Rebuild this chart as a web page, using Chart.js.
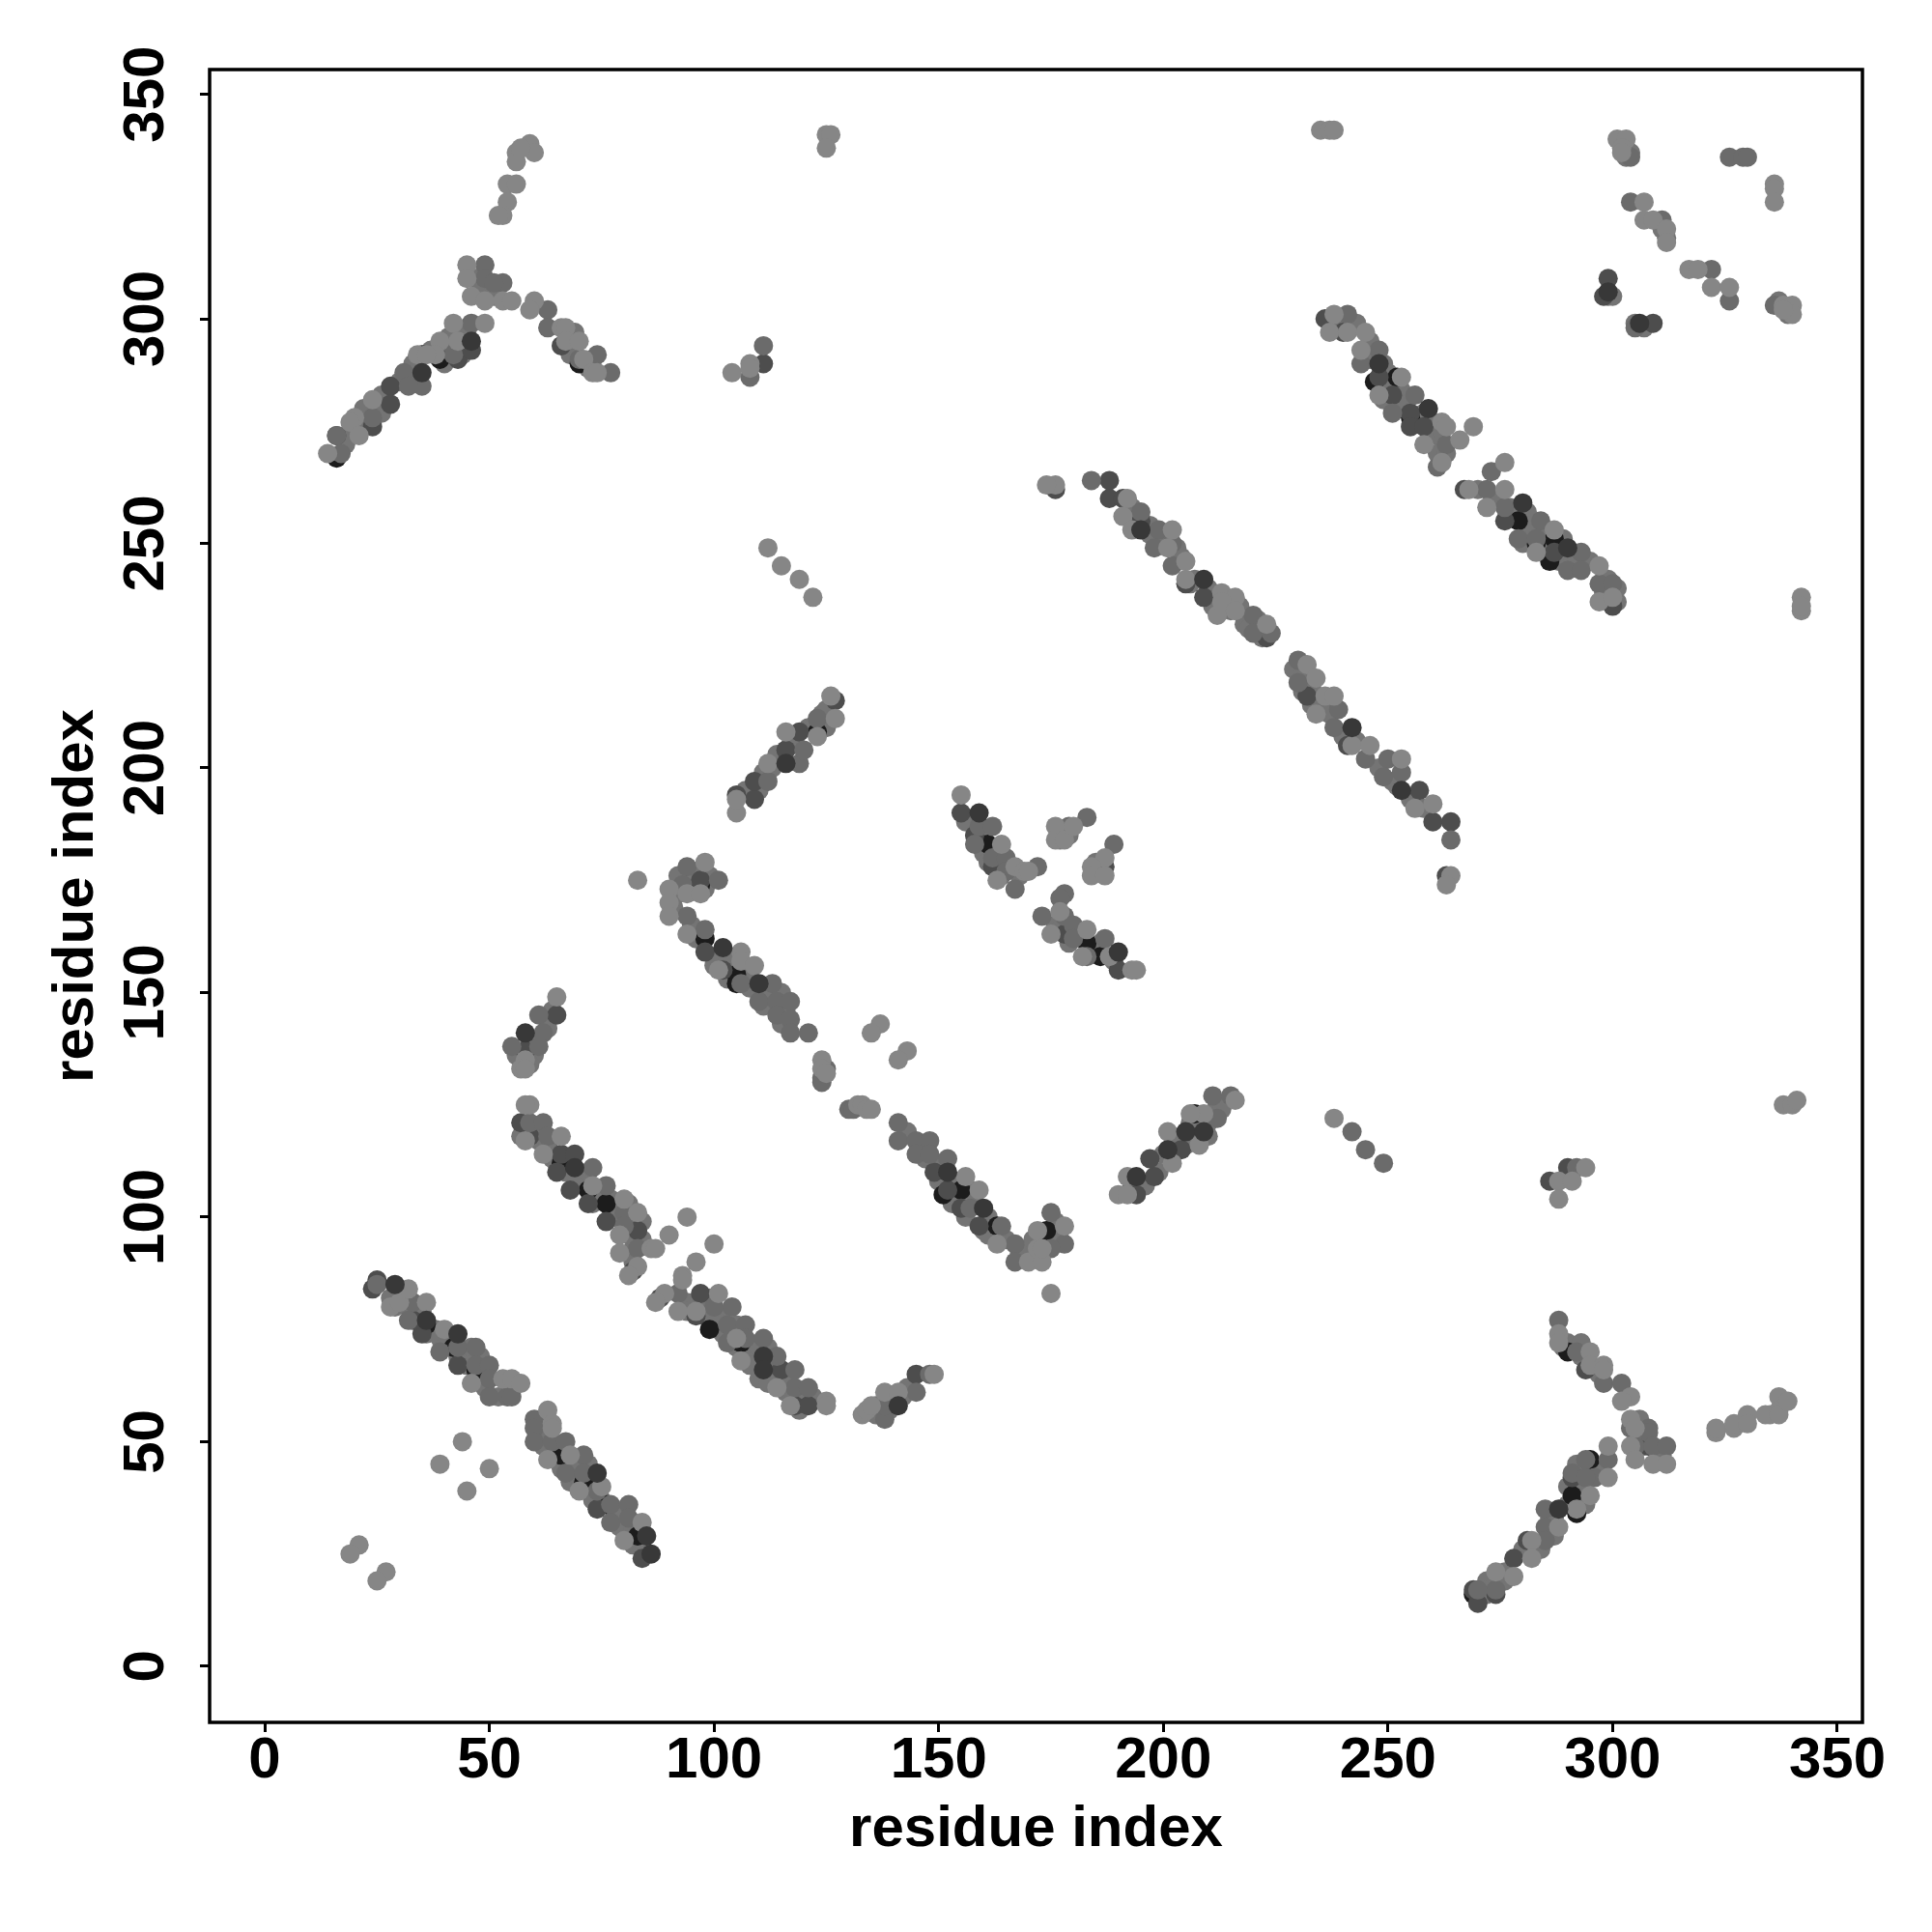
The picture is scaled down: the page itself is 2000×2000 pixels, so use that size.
<!DOCTYPE html>
<html>
<head>
<meta charset="utf-8">
<script src="https://cdn.jsdelivr.net/npm/chart.js@4"></script>
<style>
  html, body { margin: 0; padding: 0; background: #fff; }
  canvas { display: block; }
</style>
</head>
<body>
<canvas id="contactMap" width="2000" height="2000"></canvas>
<script>
const tickValues = [0, 50, 100, 150, 200, 250, 300, 350];

// residue pairs, one list per grey level
const blackPairs = [
  [36,76],[42,71],[47,66],[66,47],[71,41],[76,36],[83,29],[66,112],[72,106],[76,103],[106,72],[99,75],
  [105,154],[105,152],[97,174],[98,162],[151,105],[155,106],[163,98],[161,183],[186,158],[183,161],
  [174,97],[207,123],[247,286],[252,287],[255,278],[279,255],[283,250],[287,251],[286,246],[290,70],
  [295,46],[291,38],[292,34],[269,16],[70,290],[39,291],[35,292],[16,269],[123,208]
];
const darkPairs = [
  [24,84],[25,86],[35,74],[33,77],[43,67],[74,35],[84,24],[57,121],[59,118],[66,114],[69,114],[65,110],
  [68,106],[72,103],[76,99],[83,97],[82,88],[88,82],[97,83],[96,78],[115,66],[118,58],[121,58],[97,175],
  [98,159],[102,155],[152,106],[149,110],[155,102],[159,98],[194,105],[198,109],[197,113],[204,115],
  [286,108],[290,111],[155,190],[158,185],[162,178],[178,163],[190,155],[176,262],[188,264],[188,260],
  [191,260],[195,255],[205,241],[209,238],[223,229],[232,216],[241,205],[257,195],[260,188],[264,188],
  [263,176],[236,300],[240,297],[248,287],[251,283],[255,279],[255,276],[258,276],[267,262],[276,255],
  [287,248],[300,236],[299,309],[298,305],[309,299],[294,66],[308,49],[291,42],[274,16],[281,28],[278,24],
  [269,17],[270,14],[66,294],[73,291],[43,291],[46,293],[28,285],[28,281],[24,276],[16,274],[111,290],
  [105,194],[109,193],[109,197],[116,204],[119,208],[127,215],[65,145],[58,137],[145,65],[187,178]
];
const midPairs = [
  [25,85],[33,81],[32,77],[39,70],[43,71],[47,71],[47,67],[50,67],[50,64],[50,60],[54,60],[55,60],[60,55],
  [60,53],[60,50],[64,50],[67,50],[67,43],[71,47],[71,43],[74,39],[77,36],[81,36],[77,32],[81,33],
  [59,121],[62,121],[63,118],[73,111],[76,107],[80,101],[80,98],[83,93],[92,83],[100,80],[104,80],[103,76],
  [107,76],[103,72],[107,73],[111,73],[114,69],[118,66],[118,62],[121,62],[94,178],[101,175],[93,174],
  [94,167],[98,164],[106,152],[113,152],[110,148],[114,148],[117,148],[114,145],[117,144],[117,141],[121,141],
  [124,131],[124,130],[125,133],[130,124],[131,124],[141,121],[141,117],[145,117],[148,117],[145,114],[148,114],
  [152,113],[157,102],[164,98],[167,94],[167,90],[175,101],[178,94],[175,93],[212,122],[211,127],[215,127],
  [249,112],[245,115],[242,119],[292,111],[159,187],[162,187],[158,183],[162,180],[165,180],[165,177],[172,178],
  [167,173],[183,189],[179,187],[189,183],[178,172],[177,171],[173,167],[178,167],[180,165],[180,162],[187,162],
  [183,158],[184,264],[195,257],[199,253],[198,249],[202,250],[202,245],[220,234],[220,230],[224,230],[230,224],
  [230,219],[239,213],[238,209],[245,202],[250,202],[249,198],[253,199],[264,184],[241,301],[248,293],[244,290],
  [251,279],[256,283],[263,272],[261,267],[273,266],[272,262],[276,258],[284,255],[279,251],[283,251],[293,248],
  [290,244],[293,244],[297,241],[300,241],[304,336],[326,336],[329,336],[330,336],[304,326],[311,322],[322,311],
  [326,304],[336,303],[305,298],[288,77],[292,70],[298,63],[302,63],[304,53],[308,53],[308,52],[305,49],[309,49],
  [312,49],[299,46],[296,42],[291,43],[294,42],[285,35],[285,31],[285,28],[274,17],[270,17],[294,46],[49,312],
  [49,309],[53,308],[51,308],[63,302],[63,298],[70,291],[74,292],[77,288],[46,299],[42,294],[42,292],[31,288],
  [35,285],[32,285],[24,278],[16,274],[17,270],[108,287],[111,294],[112,197],[119,201],[120,204],[123,211],[61,145],
  [62,141],[55,138],[61,138],[138,55],[145,61],[148,65],[138,58]
];
const lightPairs = [
  [28,80],[30,81],[32,84],[36,81],[40,75],[46,63],[53,64],[55,64],[57,63],[63,57],[64,54],[64,53],[63,46],[68,47],
  [75,40],[70,39],[84,32],[80,28],[44,50],[39,45],[50,44],[45,39],[21,27],[19,25],[27,21],[25,19],
  [59,125],[58,125],[58,117],[66,118],[62,114],[73,107],[80,104],[83,101],[79,96],[79,92],[86,93],[87,93],[83,89],
  [81,87],[90,96],[94,100],[100,94],[96,90],[93,87],[93,86],[89,83],[87,81],[92,79],[101,83],[96,79],[105,73],[106,68],
  [114,62],[117,58],[125,59],[125,58],[132,125],[133,125],[134,124],[135,124],[124,135],[124,133],[125,132],
  [98,179],[90,173],[94,172],[97,172],[90,170],[90,167],[94,163],[106,159],[101,155],[106,157],[109,156],
  [137,143],[135,141],[143,137],[141,135],[156,109],[159,106],[163,94],[170,90],[173,90],[172,93],[178,98],[172,97],
  [173,93],[175,83],[190,105],[192,105],[192,109],[202,112],[201,119],[208,116],[209,123],[216,126],[206,123],
  [238,122],[288,108],[291,108],[294,111],[288,104],[338,125],[340,125],[341,126],[288,74],[288,72],[295,70],[295,67],
  [298,67],[298,66],[304,60],[302,59],[304,55],[305,53],[304,49],[305,46],[309,45],[312,45],[323,52],[323,53],[327,53],
  [327,54],[330,56],[330,54],[335,56],[334,56],[337,60],[337,57],[337,56],[339,59],[299,49],[299,42],[295,38],[292,35],
  [288,31],[282,28],[282,24],[278,20],[274,21],[155,194],[164,183],[163,175],[167,178],[169,177],[170,177],[176,187],
  [176,184],[178,184],[180,187],[187,180],[184,178],[184,176],[187,176],[177,168],[175,163],[183,164],[182,158],[188,158],
  [193,155],[194,155],[176,263],[174,263],[192,260],[191,256],[193,253],[202,253],[201,249],[205,246],[205,242],[213,239],[216,238],
  [212,234],[213,237],[216,235],[223,232],[232,223],[234,220],[236,216],[238,216],[234,212],[242,205],[246,205],[253,202],
  [256,191],[260,192],[264,176],[263,174],[238,301],[237,297],[241,297],[245,297],[244,293],[253,287],[248,283],[262,277],
  [263,276],[258,272],[269,276],[266,273],[262,268],[276,268],[268,262],[276,262],[272,258],[283,248],[287,253],[297,245],
  [297,237],[300,238],[235,342],[237,342],[238,342],[301,340],[303,340],[302,338],[302,337],[336,330],[336,329],[336,326],
  [307,326],[307,322],[309,322],[312,320],[312,317],[317,311],[319,311],[322,307],[326,307],[338,303],[340,303],[340,301],
  [338,302],[342,238],[342,235],[342,236],[119,242],[122,238],[112,249],[115,245],[125,341],[126,341],[125,338],
  [59,339],[60,337],[56,337],[56,335],[57,338],[54,330],[56,330],[54,326],[53,323],[52,323],[45,312],[45,309],[46,305],
  [49,304],[53,304],[55,304],[60,304],[59,302],[66,298],[67,298],[67,295],[70,295],[71,291],[73,288],[74,288],[42,299],
  [49,299],[43,295],[39,295],[38,292],[34,292],[36,292],[24,282],[20,278],[19,277],[21,274],[14,270],[104,288],[108,290],
  [108,289],[105,190],[105,193],[112,201],[116,208],[123,207],[127,211],[126,216],[83,175],[65,149],[58,135],[57,133],
  [58,133],[133,56],[134,57],[135,58],[138,61],[141,61],[149,65]
];
const topPairs = [
  [29,85],[36,77],[43,74],[74,43],[85,29],[86,25],[69,111],[111,69],[111,66],[102,160],[110,152],[152,110],[160,102],
  [194,109],[201,115],[205,119],[209,119],[159,190],[190,159],[195,253],[209,242],[242,209],[253,195],[248,290],[259,280],
  [280,259],[290,249],[299,306],[306,299],[288,35],[46,295],[35,288],[116,201],[58,141],[141,58]
];
// contacts mostly hidden under the others, they give the bands their width
const bandPairs = [
  [28,82],[29,80],[30,83],[33,79],[32,80],[35,79],[36,74],[38,75],[39,73],[40,71],[43,69],[45,69],[46,71],[45,67],[48,69],
  [47,65],[49,62],[52,60],[61,52],[62,49],[65,48],[66,44],[69,45],[68,41],[70,42],[72,45],[72,41],[73,37],[75,37],[78,34],
  [79,31],[81,30],[82,31],[83,28],[82,27],[84,26],[84,28],[57,118],[60,120],[61,117],[63,116],[64,113],[65,112],[67,110],
  [68,112],[70,109],[69,107],[71,108],[72,110],[74,105],[73,103],[75,105],[77,104],[78,101],[77,100],[79,100],[81,103],
  [82,99],[81,96],[84,99],[84,95],[81,92],[82,90],[94,81],[94,79],[97,80],[99,82],[98,78],[101,78],[102,74],[104,74],
  [105,71],[105,76],[108,71],[109,68],[108,67],[110,71],[112,71],[110,64],[113,65],[112,63],[113,68],[116,64],[116,61],
  [119,60],[120,59],[119,57],[122,60],[92,176],[95,175],[96,177],[99,176],[98,173],[91,169],[92,172],[95,165],[96,162],
  [100,158],[100,156],[103,157],[103,153],[104,157],[107,155],[108,153],[108,151],[112,150],[111,147],[115,150],[116,146],
  [115,143],[143,119],[146,116],[147,113],[150,112],[150,108],[151,108],[153,108],[154,104],[157,106],[153,103],[158,103],
  [156,100],[161,100],[160,97],[161,96],[165,95],[169,92],[171,95],[174,94],[176,96],[176,99],[177,95],[168,92],[193,107],
  [196,107],[199,110],[200,114],[203,117],[202,114],[205,116],[206,121],[207,118],[210,121],[212,125],[213,124],[210,118],
  [18,272],[19,275],[22,277],[26,279],[26,283],[30,286],[33,287],[33,290],[37,293],[40,293],[41,296],[44,292],[45,297],
  [44,296],[40,290],[21,276],[22,280],[68,292],[69,294],[72,290],[69,297],[72,289],[47,309],[51,306],[48,306],[51,305],
  [107,195],[111,199],[113,200],[114,203],[117,205],[118,206],[121,209],[122,209],[124,212],[125,213],[110,195],[125,209],
  [126,211],[193,258],[197,254],[200,251],[204,247],[207,242],[210,240],[211,236],[215,235],[218,232],[221,233],[219,231],
  [222,229],[197,252],[203,249],[214,236],[217,236],[212,237],[206,241],[229,222],[231,221],[233,218],[231,217],[235,214],
  [236,213],[237,212],[233,214],[240,207],[243,206],[248,200],[251,197],[255,193],[252,196],[258,191],[239,299],[243,299],
  [246,295],[246,291],[250,288],[250,285],[249,290],[249,282],[253,284],[254,281],[252,281],[257,278],[258,279],[260,277],
  [261,274],[261,270],[263,270],[262,275],[270,262],[274,260],[277,258],[278,256],[281,257],[281,253],[280,250],[285,251],
  [282,254],[285,248],[286,252],[289,251],[288,246],[291,247],[295,246],[298,239],[299,239],[299,242],[301,237],[301,240],
  [303,338],[304,337],[303,336],[311,320],[312,318],[337,303],[339,302],[339,301],[337,304],[299,305],[300,305],[305,299],
  [307,298],[272,19],[276,21],[276,19],[272,16],[271,17],[280,26],[284,26],[287,33],[287,29],[286,33],[290,36],[290,40],
  [293,40],[292,38],[294,36],[293,44],[296,44],[297,44],[292,45],[295,43],[289,71],[290,72],[293,69],[293,72],[297,65],
  [306,51],[306,55],[307,49],[311,47],[56,136],[57,135],[59,139],[60,136],[63,142],[64,146],[59,134],[136,56],[137,58],
  [139,57],[140,59],[142,60],[143,62],[136,58],[156,188],[160,185],[160,181],[161,179],[163,178],[164,176],[168,176],
  [176,165],[177,164],[179,161],[181,163],[184,160],[185,159],[186,161],[189,157],[179,164],[177,186],[177,184],[179,185],
  [185,177],[186,177],[185,179]
];

const toPoints = pairs => pairs.map(p => ({ x: p[0], y: p[1] }));

function useFixedTicks(scale) {
    scale.ticks = tickValues.map(v => ({ value: v }));
}

// R style box round the plot
const frameBox = {
    id: 'frameBox',
    afterDraw(chart) {
        const { ctx, chartArea } = chart;
        ctx.save();
        ctx.strokeStyle = '#000';
        ctx.lineWidth = 3.5;
        ctx.strokeRect(chartArea.left, chartArea.top, chartArea.right - chartArea.left, chartArea.bottom - chartArea.top);
        ctx.restore();
    }
};

function greyDataset(pairs, colour) {
    return {
        data: toPoints(pairs),
        backgroundColor: colour,
        borderWidth: 0,
        pointRadius: 10,
        pointStyle: 'circle'
    };
}

const tickFont = { family: '"Liberation Sans"', size: 60, weight: 'bold', lineHeight: 1 };
const titleFont = { family: '"Liberation Sans"', size: 60, weight: 'bold', lineHeight: 1.2 };

new Chart(document.getElementById('contactMap'), {
    type: 'scatter',
    data: {
        // first dataset is painted last
        datasets: [
            greyDataset(topPairs, '#383838'),
            greyDataset(lightPairs, '#868686'),
            greyDataset(midPairs, '#6b6b6b'),
            greyDataset(darkPairs, '#4d4d4d'),
            greyDataset(blackPairs, '#1c1c1c'),
            greyDataset(bandPairs, '#747474')
        ]
    },
    options: {
        responsive: false,
        animation: false,
        devicePixelRatio: 1,
        layout: { padding: { left: 0, top: 72, right: 72, bottom: 0 } },
        plugins: { legend: { display: false }, tooltip: { enabled: false } },
        scales: {
            x: {
                type: 'linear',
                min: -12.26,
                max: 355.6,
                afterBuildTicks: useFixedTicks,
                afterFit(scale) { scale.height = 217; },
                grid: { drawOnChartArea: false, color: '#000', tickColor: '#000', tickLength: 10, tickWidth: 3 },
                border: { display: false },
                ticks: { color: '#000', font: tickFont, padding: 0, maxRotation: 0, autoSkip: false },
                title: {
                    display: true,
                    text: 'residue index',
                    color: '#000',
                    font: titleFont,
                    padding: { top: 0, bottom: 70 }
                }
            },
            y: {
                type: 'linear',
                min: -12.5,
                max: 355.5,
                afterBuildTicks: useFixedTicks,
                afterFit(scale) { scale.width = 217; },
                grid: { drawOnChartArea: false, color: '#000', tickColor: '#000', tickLength: 10, tickWidth: 3 },
                border: { display: false },
                ticks: { color: '#000', font: tickFont, padding: 4, minRotation: 90, maxRotation: 90, crossAlign: 'center', autoSkip: false },
                title: {
                    display: true,
                    text: 'residue index',
                    color: '#000',
                    font: titleFont,
                    padding: { top: 43, bottom: 0 }
                }
            }
        }
    },
    plugins: [frameBox]
});
</script>
</body>
</html>
